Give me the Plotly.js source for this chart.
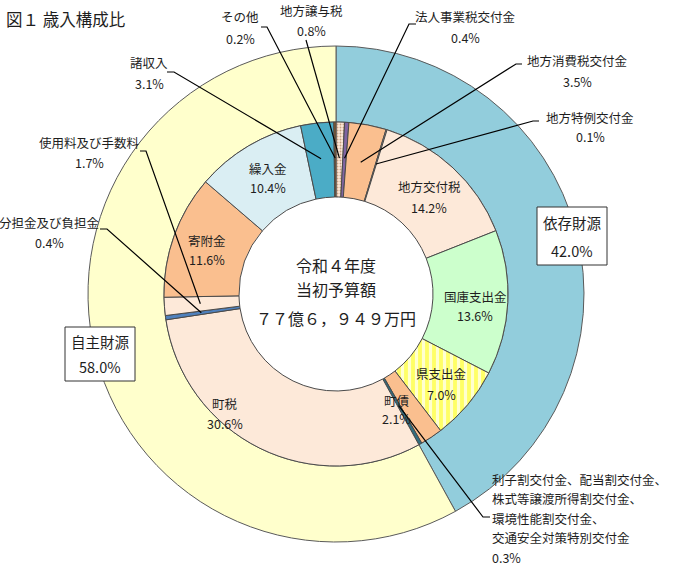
<!DOCTYPE html>
<html>
<head>
<meta charset="utf-8">
<script src="https://cdn.plot.ly/plotly-3.0.1.min.js"></script>
<style>html,body{margin:0;padding:0;background:#fff;}#chart{width:675px;height:572px;}</style>
</head>
<body>
<div id="chart"></div>
<script>
// ---- data ----
const outerLabels = ['依存財源', '自主財源'];
const outerValues = [42.0, 58.0];

const innerLabels = ['地方譲与税', '法人事業税交付金', '地方消費税交付金', '地方特例交付金', '地方交付税', '国庫支出金', '県支出金', '町債',
  '利子割交付金、配当割交付金、|株式等譲渡所得割交付金、|環境性能割交付金、|交通安全対策特別交付金',
  '町税', '分担金及び負担金', '使用料及び手数料', '寄附金', '繰入金', '諸収入', 'その他'];
const innerValues = [0.8, 0.4, 3.5, 0.1, 14.2, 13.6, 7.0, 2.1, 0.3, 30.6, 0.4, 1.7, 11.6, 10.4, 3.1, 0.2];

const titleText = '図１ 歳入構成比';
const centerLines = ['令和４年度', '当初予算額', '７７億６，９４９万円'];

// ---- geometry / style ----
const W = 675, H = 572;
const cx = 336, cy = 294;
const R1 = 248, R2 = 172, R3 = 97;
const FONT = '"Noto Sans CJK JP", "Noto Sans", sans-serif';
const TXT = '#1e1e1e';

const outerColors = ['#92CDDC', '#FFFFCC'];
const innerColors = ['#FDE9D9', '#8064A2', '#FABF8F', '#FDE9D9', '#FDE9D9', '#CCFFCC', '#FFFF66', '#FABF8F',
  '#2F6E80', '#FDE9D9', '#4F81BD', '#FDE9D9', '#FABF8F', '#DAEEF3', '#4BACC6', '#8B5A2B'];
const patShape = innerValues.map(() => '');
patShape[0] = '.';
patShape[6] = '|';
const patFg = innerColors.map(() => '#ffffff');
patFg[0] = '#C8A080';
patFg[6] = '#FFFFD0';

function px2paper(x, y) { return [x / W, 1 - y / H]; }
function dom(r) {
  return { x: [(cx - r) / W, (cx + r) / W], y: [(H - cy - r) / H, (H - cy + r) / H] };
}

const outer = {
  type: 'pie', labels: outerLabels, values: outerValues, sort: false, direction: 'clockwise', rotation: 0,
  hole: R2 / R1, domain: dom(R1), textinfo: 'none', hoverinfo: 'label+value',
  marker: { colors: outerColors, line: { color: '#5A5A5A', width: 1 } }, showlegend: false
};
const inner = {
  type: 'pie', labels: innerLabels.map(s => s.replace(/\|/g, '')), values: innerValues, sort: false, direction: 'clockwise', rotation: 0,
  hole: R3 / R2, domain: dom(R2), textinfo: 'none', hoverinfo: 'label+value',
  marker: {
    colors: innerColors, line: { color: '#4A4A4A', width: 1 },
    pattern: { shape: patShape, fgcolor: patFg, bgcolor: innerColors, size: patShape.map(s => s === '|' ? 7 : 3), solidity: patShape.map(s => s === '|' ? 0.45 : 0.3) }
  },
  showlegend: false
};

const total = innerValues.reduce((a, b) => a + b, 0);
function midAngle(i) {
  let c = 0;
  for (let k = 0; k < i; k++) c += innerValues[k];
  c += innerValues[i] / 2;
  return c / total * 2 * Math.PI;
}
function ringPoint(i, r) {
  const a = midAngle(i);
  return [cx + r * Math.sin(a), cy - r * Math.cos(a)];
}
const pct = v => v.toFixed(1) + '%';

const annotations = [];
function txt(s, x, y, size, opts) {
  const p = px2paper(x, y);
  annotations.push(Object.assign({ text: s, x: p[0], y: p[1], xref: 'paper', yref: 'paper', showarrow: false,
    xanchor: 'center', yanchor: 'middle', font: { family: FONT, size: size, color: TXT } }, opts || {}));
}
const LS = 12.5;
function label2(i, x, y, dy, size) {
  txt(innerLabels[i], x, y, size || LS);
  txt(pct(innerValues[i]), x, y + (dy || 20), size || LS);
}

// title
txt(titleText, 4, 19, 16.5, { xanchor: 'left' });

// center
txt(centerLines[0], cx, 265, 16);
txt(centerLines[1], cx, 289, 16);
txt(centerLines[2], cx, 318, 16);

// outside labels
label2(15, 240, 17, 21);
label2(0, 311, 10, 20);
label2(1, 465, 17, 20);
label2(2, 577, 60, 21);
label2(3, 590, 117, 20);
label2(14, 149, 63, 20);
label2(11, 89, 142, 20);
label2(10, 49, 222, 20);
const rishiLines = innerLabels[8].split('|');
rishiLines.forEach((s, k) => txt(s, 490, 479 + k * 19.5, LS, { xanchor: 'left' }));
txt(pct(innerValues[8]), 490, 557, LS, { xanchor: 'left' });

// inside labels
label2(13, 268, 169, 19);
label2(12, 207, 240, 19);
label2(4, 429, 187, 20);
label2(5, 475, 296, 20);
label2(6, 441, 373, 21);
label2(7, 396, 400, 18);
label2(9, 225, 403, 20);

// outer group boxes
txt(outerLabels[0], 572, 222, 14.5);
txt(pct(outerValues[0]), 572, 250, 14.5);
txt(outerLabels[1], 100, 341, 14.5);
txt(pct(outerValues[1]), 100, 366, 14.5);

const shapes = [];
function rectPx(x0, y0, x1, y1) {
  const a = px2paper(x0, y0), b = px2paper(x1, y1);
  shapes.push({ type: 'rect', xref: 'paper', yref: 'paper', x0: a[0], y0: b[1], x1: b[0], y1: a[1],
    line: { color: '#333333', width: 1 }, fillcolor: '#ffffff', layer: 'above' });
}
rectPx(537, 207, 607, 265);
rectPx(65, 327, 135, 381);

// leader lines
const leaders = [
  [15, [[261, 27], [267, 27]], 136],
  [0, [[306, 40]], 136],
  [1, [[416, 24], [409, 24]], 136],
  [2, [[522, 64], [516, 64]], 134],
  [3, [[539, 121], [533, 121]], 136],
  [14, [[167, 72], [174, 72]], 136],
  [11, [[140, 151], [146, 151]], 136],
  [10, [[100, 229], [107, 229]], 136],
  [8, [[490, 517], [483, 517]], 128]
];
leaders.forEach(([i, pts, r]) => {
  const all = pts.concat([ringPoint(i, r)]);
  const path = all.map((p, k) => {
    const q = px2paper(p[0], p[1]);
    return (k === 0 ? 'M ' : 'L ') + q[0].toFixed(5) + ',' + q[1].toFixed(5);
  }).join(' ');
  shapes.push({ type: 'path', xref: 'paper', yref: 'paper', path: path, line: { color: '#000000', width: 1.2 }, layer: 'above' });
});

const layout = {
  width: W, height: H, margin: { l: 0, r: 0, t: 0, b: 0 },
  paper_bgcolor: '#ffffff', plot_bgcolor: '#ffffff',
  showlegend: false, annotations: annotations, shapes: shapes,
  font: { family: FONT, color: TXT }
};

Plotly.newPlot('chart', [outer, inner], layout, { displayModeBar: false, staticPlot: true });
</script>
</body>
</html>
